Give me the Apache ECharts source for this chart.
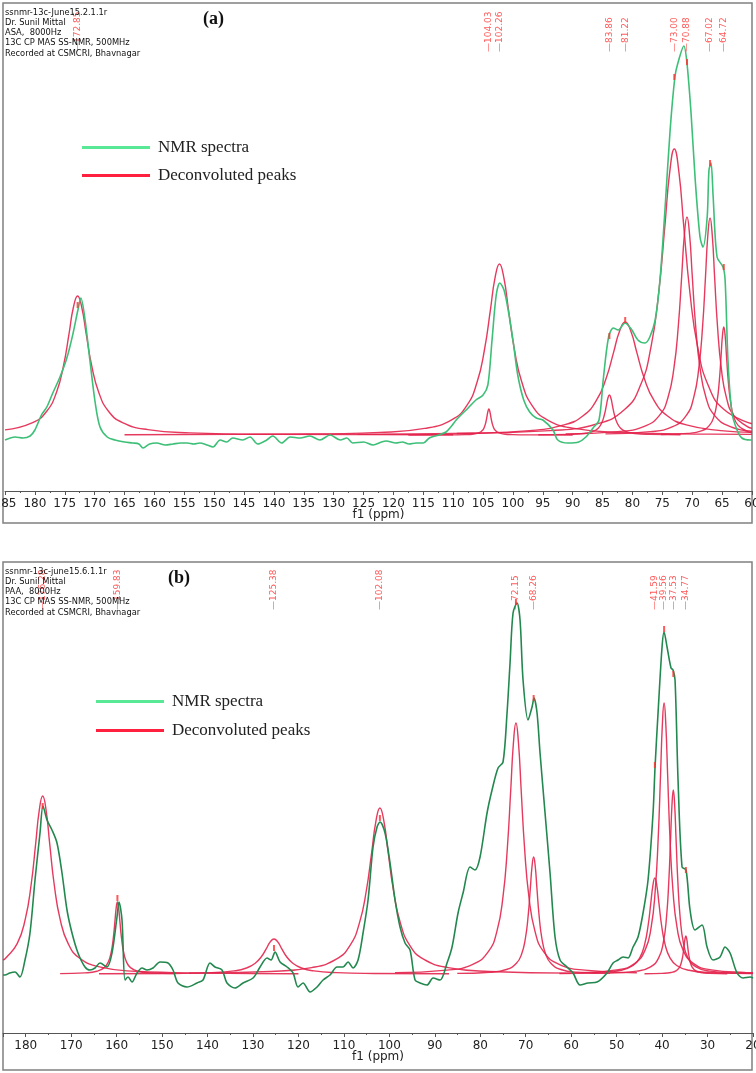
<!DOCTYPE html>
<html>
<head>
<meta charset="utf-8">
<title>13C CP MAS SS-NMR</title>
<script src="https://cdn.jsdelivr.net/npm/echarts@6/dist/echarts.min.js"></script>
<style>
  html, body { margin: 0; padding: 0; background: #fff; }
  #chart { width: 756px; height: 1073px; }
</style>
</head>
<body>
<div id="chart"></div>
<script>
// ---- panel (a): ASA ----  [ppm, intensity]
var specA = [
  [185.0,-5],[183.3,-2],[182.0,-3],[180.8,-1],[180.0,5],[178.9,20],[178.0,28],[177.0,42],[175.8,58],[174.6,78],
  [173.6,102],[172.8,125],[172.3,137],[171.6,115],[170.8,75],[169.9,32],[169.1,8],[167.9,-2],[166.6,-5],[165.0,-7],
  [163.6,-8],[162.6,-9],[161.9,-13],[160.8,-9],[159.6,-8],[158.2,-10],[156.9,-9],[155.6,-8],[154.5,-8],[153.4,-9],
  [152.4,-8],[151.2,-10],[150.2,-12],[149.0,-5],[147.9,-7],[146.9,-3],[145.2,-5],[144.0,-2],[142.7,-9],[141.2,-5],
  [140.2,-1],[138.7,-8],[137.3,-2],[135.6,-3],[134.0,-1],[132.3,-5],[130.6,0],[128.9,-5],[127.8,-3],[126.8,-8],
  [125.0,-7],[123.4,-10],[122.0,-7],[121.2,-6],[119.6,-8],[118.5,-7],[117.4,-9],[116.2,-8],[115.0,-8],[114.0,-3],
  [112.4,0],[111.2,3],[110.4,8],[109.5,15],[108.7,20],[107.5,27],[106.2,35],[105.0,40],[104.2,50],[103.5,95],
  [102.8,140],[102.2,152],[101.5,145],[100.8,125],[100.0,95],[99.2,60],[98.2,35],[97.2,23],[96.1,17],[95.0,15],
  [93.3,5],[92.5,-5],[90.8,-8],[89.0,-7],[87.8,-2],[86.6,7],[85.6,15],[84.9,55],[84.0,98],[83.2,107],
  [82.4,105],[81.25,112],[80.1,105],[79.1,95],[77.9,92],[77.1,98],[76.2,115],[75.4,155],[74.6,222],[73.7,305],
  [72.9,358],[72.4,372],[71.4,389],[70.9,373],[70.2,322],[69.5,255],[68.7,198],[68.2,188],[67.5,218],[67.2,265],
  [66.86,272],[66.5,238],[65.85,178],[64.85,168],[64.5,155],[64.0,72],[63.35,22],[62.5,5],[61.7,-3],[60.3,-5],[60,-5]
];
// deconvoluted components, one list per peak
var fitA = [
  [[185,5.1],[180.37,12.4],[178.02,23.8],[176.38,42.8],[175.2,69.5],[174.26,102.2],[173.56,127.5],[172.85,139],
   [172.15,127.5],[171.44,102.2],[170.5,69.5],[169.32,42.8],[167.68,23.8],[165.33,12.4],[161.1,5.35],[154.05,2.14],
   [139.95,0.71],[110,0.2]],
  [[117.5,0.03],[111.03,0.13],[108.03,0.4],[106.53,1.0],[105.63,2.31],[105.13,4.45],[104.78,8.0],[104.53,13],
   [104.33,19.1],[104.18,23.8],[104.03,26],[103.88,23.8],[103.73,19.1],[103.53,13],[103.28,8.0],[102.93,4.45],
   [102.43,2.31],[101.53,1.0],[100.03,0.4],[97.03,0.13],[90,0.03]],
  [[165,0.3],[137.26,0.87],[122.26,2.63],[114.76,6.58],[110.26,15.2],[107.76,29.2],[106.01,52.7],[104.76,85.5],
   [103.76,125.7],[103.01,156.8],[102.26,171],[101.51,156.8],[100.76,125.7],[99.76,85.5],[98.51,52.7],[96.76,29.2],
   [94.26,15.2],[89.76,6.58],[82.26,2.63],[67.26,0.87],[60,0.6]],
  [[95.76,0.2],[90.66,0.62],[88.11,1.54],[86.58,3.56],[85.73,6.84],[85.14,12.3],[84.71,20],[84.37,29.4],[84.12,36.7],
   [83.86,40],[83.6,36.7],[83.35,29.4],[83.01,20],[82.58,12.3],[81.99,6.84],[81.14,3.56],[79.61,1.54],[77.06,0.62],
   [71.96,0.2]],
  [[126.02,0.58],[106.82,1.74],[97.22,4.35],[91.46,10.1],[88.26,19.3],[86.02,34.8],[84.42,56.5],[83.14,83.1],
   [82.18,103.6],[81.22,113],[80.26,103.6],[79.3,83.1],[78.02,56.5],[76.42,34.8],[74.18,19.3],[70.98,10.1],
   [65.22,4.35],[60,2.6]],
  [[109.4,1.46],[93.8,4.4],[86.0,11],[81.32,25.5],[78.72,48.9],[76.9,88.1],[75.6,143],[74.56,210.2],[73.78,262.3],
   [73.0,286],[72.22,262.3],[71.44,210.2],[70.4,143],[69.1,88.1],[67.28,48.9],[64.68,25.5],[60,11.3]],
  [[91.18,1.11],[82.48,3.36],[78.13,8.39],[75.52,19.4],[74.07,37.3],[73.06,67.1],[72.33,109],[71.75,160.2],
   [71.32,199.9],[70.88,218],[70.44,199.9],[70.01,160.2],[69.43,109],[68.7,67.1],[67.69,37.3],[66.24,19.4],
   [63.63,8.39],[60,3.8]],
  [[84.52,1.11],[77.02,3.34],[73.27,8.35],[71.02,19.3],[69.77,37.1],[68.9,66.8],[68.27,108.5],[67.77,159.5],
   [67.4,199],[67.02,217],[66.64,199],[66.27,159.5],[65.77,108.5],[65.14,66.8],[64.27,37.1],[63.02,19.3],
   [60.77,8.35],[60,6.7]],
  [[75.22,0.55],[70.72,1.66],[68.47,4.16],[67.12,9.6],[66.37,18.5],[65.85,33.3],[65.47,54],[65.17,79.4],[64.95,99],
   [64.72,108],[64.49,99],[64.27,79.4],[63.97,54],[63.59,33.3],[63.07,18.5],[62.32,9.6],[60.97,4.16],[60,2.2]]
];
var picksA = [[172.85,130],[83.86,99],[81.22,115],[73.00,358],[70.88,373],[67.02,272],[64.72,168]];
var labelsA = [172.85, 104.03, 102.26, 83.86, 81.22, 73.00, 70.88, 67.02, 64.72];
var headerA = ['ssnmr-13c-June15.2.1.1r', 'Dr. Sunil Mittal', 'ASA,  8000Hz', '13C CP MAS SS-NMR, 500MHz', 'Recorded at CSMCRI, Bhavnagar'];

// ---- panel (b): PAA ----
var specB = [
  [185,-1],[184.56,-1],[183.5,1],[182.36,2],[181.26,-3],[180.16,14],[179.06,41],[177.96,94],[176.86,141],[176.2,168],
  [175.32,154],[174.22,144],[173.12,131],[172.02,101],[170.92,64],[169.82,41],[168.5,21],[166.96,7],[165.86,4],[164.76,6],
  [163.66,11],[162.12,7],[161.02,21],[159.92,57],[159.48,72],[158.82,54],[158.16,-6],[157.5,-3],[156.62,-8],[155.52,1],
  [154.42,6],[153.32,4],[152.0,6],[150.46,12],[148.7,11],[147.6,4],[146.5,-9],[144.52,-13],[142.32,-9],[141.0,-6],
  [139.46,11],[138.36,7],[136.82,4],[135.72,-9],[133.96,-14],[132.19,-9],[129.99,-4],[128.45,7],[126.91,16],[126.03,14],
  [125.15,22],[124.05,12],[122.51,7],[121.19,1],[120.09,-13],[118.99,-9],[117.45,-18],[115.91,-13],[114.59,-6],[113.05,-1],
  [111.51,7],[110.19,7],[109.09,12],[107.99,6],[106.89,14],[105.79,41],[104.69,74],[103.59,127],[102.71,147],[102.05,152],
  [100.95,141],[99.85,111],[98.75,74],[97.65,47],[96.55,31],[95.45,24],[94.35,-6],[93.25,-9],[91.71,-11],[90.39,-4],
  [88.85,-6],[87.31,11],[86.21,27],[84.89,61],[83.79,81],[82.25,107],[81.15,104],[80.05,117],[78.51,161],[77.41,184],
  [76.09,206],[74.99,212],[74.11,261],[73.45,311],[72.79,361],[71.91,371],[71.25,354],[70.59,294],[69.49,254],[68.61,267],
  [68.17,276],[67.51,261],[66.85,221],[65.75,161],[64.65,101],[63.55,37],[62.45,14],[60.91,7],[59.59,1],[58.05,-11],
  [56.29,-9],[54.31,-8],[52.11,1],[50.79,11],[49.69,14],[48.59,17],[47.49,16],[46.39,27],[45.29,37],[44.19,61],
  [43.09,94],[41.99,161],[41.55,207],[40.89,261],[40.01,327],[39.57,342],[38.91,327],[38.03,306],[37.59,304],[37.15,294],
  [36.49,194],[35.61,107],[34.73,104],[33.85,64],[32.75,44],[31.21,49],[30.11,27],[28.79,14],[27.25,17],[26.15,27],
  [25.05,21],[23.51,1],[22.19,-4],[20.65,-3],[20,-4]
];
var fitB = [
  [[185,14],[184.43,15.8],[181.88,30.4],[180.1,54.8],[178.82,89],[177.8,130.8],[177.04,163.2],[176.27,178],
   [175.5,163.2],[174.74,130.8],[173.72,89],[172.44,54.8],[170.66,30.4],[168.11,15.8],[163.52,6.85],[155.87,2.74],
   [140.57,0.91],[120,0.3]],
  [[172.43,0.37],[167.03,1.11],[164.33,2.77],[162.71,6.4],[161.81,12.3],[161.18,22.2],[160.73,36],[160.37,52.9],
   [160.1,66],[159.83,72],[159.56,66],[159.29,52.9],[158.93,36],[158.48,22.2],[157.85,12.3],[156.95,6.4],
   [155.33,2.77],[152.63,1.11],[147.23,0.37]],
  [[163.88,0.18],[147.38,0.54],[139.13,1.35],[134.18,3.1],[131.43,6.0],[129.51,10.8],[128.13,17.5],[127.03,25.7],
   [126.21,32.1],[125.38,35],[124.55,32.1],[123.73,25.7],[122.63,17.5],[121.25,10.8],[119.33,6.0],[116.58,3.1],
   [111.63,1.35],[103.38,0.54],[86.88,0.18]],
  [[144.08,0.85],[126.08,2.56],[117.08,6.39],[111.68,14.8],[108.68,28.4],[106.58,51.1],[105.08,83],[103.88,122],
   [102.98,152.2],[102.08,166],[101.18,152.2],[100.28,122],[99.08,83],[97.58,51.1],[95.48,28.4],[92.48,14.8],
   [87.08,6.39],[78.08,2.56],[60.08,0.85]],
  [[98.75,1.28],[87.35,3.87],[81.65,9.66],[78.23,22.3],[76.33,42.9],[75.0,77.3],[74.05,125.5],[73.29,184.5],
   [72.72,230.2],[72.15,251],[71.58,230.2],[71.01,184.5],[70.25,125.5],[69.3,77.3],[67.97,42.9],[66.07,22.3],
   [62.65,9.66],[56.95,3.87],[45.55,1.28]],
  [[85.06,0.6],[77.86,1.8],[74.26,4.5],[72.1,10.4],[70.9,20],[70.06,36],[69.46,58.5],[68.98,86],[68.62,107.3],
   [68.26,117],[67.9,107.3],[67.54,86],[67.06,58.5],[66.46,36],[65.62,20],[64.42,10.4],[62.26,4.5],[58.66,1.8],
   [51.46,0.6]],
  [[62.59,0.49],[53.59,1.48],[49.09,3.7],[46.39,8.54],[44.89,16.4],[43.84,29.6],[43.09,48],[42.49,70.6],[42.04,88],
   [41.59,96],[41.14,88],[40.69,70.6],[40.09,48],[39.34,29.6],[38.29,16.4],[36.79,8.54],[34.09,3.7],[29.59,1.48],
   [20.59,0.49],[20,0.45]],
  [[57.76,1.38],[49.96,4.17],[46.06,10.4],[43.72,24.1],[42.42,46.3],[41.51,83.5],[40.86,135.5],[40.34,199.2],
   [39.95,248.5],[39.56,271],[39.17,248.5],[38.78,199.2],[38.26,135.5],[37.61,83.5],[36.7,46.3],[35.4,24.1],
   [33.06,10.4],[29.16,4.17],[21.36,1.38],[20,1.2]],
  [[51.53,0.94],[45.53,2.83],[42.53,7.08],[40.73,16.4],[39.73,31.5],[39.03,56.7],[38.53,92],[38.13,135.2],
   [37.83,168.7],[37.53,184],[37.23,168.7],[36.93,135.2],[36.53,92],[36.03,56.7],[35.33,31.5],[34.33,16.4],
   [32.53,7.08],[29.53,2.83],[23.53,0.94],[20,0.6]],
  [[43.87,0.19],[39.97,0.59],[38.02,1.46],[36.85,3.38],[36.2,6.5],[35.75,11.7],[35.42,19],[35.16,27.9],[34.97,34.8],
   [34.77,38],[34.57,34.8],[34.38,27.9],[34.12,19],[33.79,11.7],[33.34,6.5],[32.69,3.38],[31.52,1.46],[29.57,0.59],
   [25.67,0.19]]
];
var picksB = [[176.28,168],[159.83,76],[125.38,26],[102.08,156],[72.15,372],[68.26,276],[41.59,209],[39.56,345],[37.53,300],[34.77,104]];
var labelsB = [176.28, 159.83, 125.38, 102.08, 72.15, 68.26, 41.59, 39.56, 37.53, 34.77];
var headerB = ['ssnmr-13c-june15.6.1.1r', 'Dr. Sunil Mittal', 'PAA,  8000Hz', '13C CP MAS SS-NMR, 500MHz', 'Recorded at CSMCRI, Bhavnagar'];

var RED = '#e3244c';
var LABEL_RED = '#ff3030';
var SANS = 'DejaVu Sans';
var SERIF = 'Liberation Serif';

var chart = echarts.init(document.getElementById('chart'));

function ppmAxis(grid, min, max, step) {
  return {
    type: 'value', gridIndex: grid, inverse: true, min: min, max: max, interval: step,
    name: 'f1 (ppm)', nameLocation: 'middle', nameGap: 18, nameMoveOverlap: false,
    nameTextStyle: { fontFamily: SANS, fontSize: 12, color: '#222' },
    axisLine: { onZero: false, lineStyle: { color: '#555', width: 1 } },
    axisTick: { length: 4, lineStyle: { color: '#555' } },
    minorTick: { show: true, splitNumber: 2, length: 2, lineStyle: { color: '#555' } },
    splitLine: { show: false },
    axisLabel: {
      margin: 7, fontFamily: SANS, fontSize: 12, color: '#222',
      formatter: function (v) { return v % step === 0 ? String(v) : ''; }
    }
  };
}

function panelSeries(idx, spec, fits, picks, labels, greenColor, labelLevel) {
  var out = [{
    name: 'NMR spectra', type: 'line', xAxisIndex: idx, yAxisIndex: idx,
    data: spec, smooth: 0.3, showSymbol: false, z: 3,
    lineStyle: { color: greenColor, width: 1.6 }, itemStyle: { color: greenColor }
  }];
  fits.forEach(function (pts) {
    out.push({
      name: 'Deconvoluted peaks', type: 'line', xAxisIndex: idx, yAxisIndex: idx,
      data: pts, smooth: 0.5, showSymbol: false, z: 2,
      lineStyle: { color: RED, width: 1.4, opacity: 0.9 }, itemStyle: { color: RED }
    });
  });
  // peak picks on the spectrum
  out.push({
    type: 'scatter', xAxisIndex: idx, yAxisIndex: idx, data: picks, silent: true, z: 5,
    symbol: 'rect', symbolSize: [2, 6], itemStyle: { color: LABEL_RED }
  });
  // peak labels along the top
  out.push({
    type: 'scatter', xAxisIndex: idx, yAxisIndex: idx, silent: true, z: 6,
    data: labels.map(function (v) { return [v, labelLevel]; }),
    symbolSize: 1, itemStyle: { color: 'rgba(0,0,0,0)' },
    label: {
      show: true, position: 'inside', rotate: 90, align: 'left', verticalAlign: 'middle',
      fontFamily: SANS, fontSize: 9, color: LABEL_RED,
      formatter: function (p) { return '\u2014' + p.value[0].toFixed(2); }
    }
  });
  return out;
}

function legendFor(left, top, gap) {
  return {
    orient: 'vertical', left: left, top: top, itemGap: gap, icon: 'rect',
    itemWidth: 68, itemHeight: 3, selectedMode: false,
    textStyle: { fontFamily: SERIF, fontSize: 17, color: '#222', padding: [0, 0, 0, 3] },
    data: [
      { name: 'NMR spectra', itemStyle: { color: '#58e896' } },
      { name: 'Deconvoluted peaks', itemStyle: { color: '#ff2040' } }
    ]
  };
}

function header(lines, top) {
  return {
    type: 'text', left: 5, top: top, z: 10,
    style: { text: lines.join('\n'), font: '8.3px "DejaVu Sans"', lineHeight: 10.2, fill: '#111' }
  };
}

chart.setOption({
  animation: false,
  backgroundColor: '#fff',
  grid: [
    { left: 5, right: 4, top: 3, height: 488, outerBoundsMode: 'none' },
    { left: 3, right: 3, top: 562, height: 471, outerBoundsMode: 'none' }
  ],
  xAxis: [ppmAxis(0, 60, 185, 5), ppmAxis(1, 20, 185, 10)],
  yAxis: [
    { type: 'value', gridIndex: 0, min: -56, max: 432, show: false },
    { type: 'value', gridIndex: 1, min: -59, max: 412, show: false }
  ],
  legend: [legendFor(77, 134, 11), legendFor(91, 688, 12)],
  graphic: [
    { type: 'rect', shape: { x: 3, y: 3, width: 749, height: 520 }, style: { fill: 'none', stroke: '#808080', lineWidth: 1.5 }, z: -1 },
    { type: 'rect', shape: { x: 3, y: 562, width: 749, height: 508 }, style: { fill: 'none', stroke: '#808080', lineWidth: 1.5 }, z: -1 },
    header(headerA, 7.5),
    header(headerB, 566.5),
    { type: 'text', left: 203, top: 10, style: { text: '(a)', font: 'bold 18px "Liberation Serif"', fill: '#111' } },
    { type: 'text', left: 168, top: 569, style: { text: '(b)', font: 'bold 18px "Liberation Serif"', fill: '#111' } }
  ],
  series: panelSeries(0, specA, fitA, picksA, labelsA, '#3dbf78', 383)
    .concat(panelSeries(1, specB, fitB, picksB, labelsB, '#23884f', 364))
});
</script>
</body>
</html>
